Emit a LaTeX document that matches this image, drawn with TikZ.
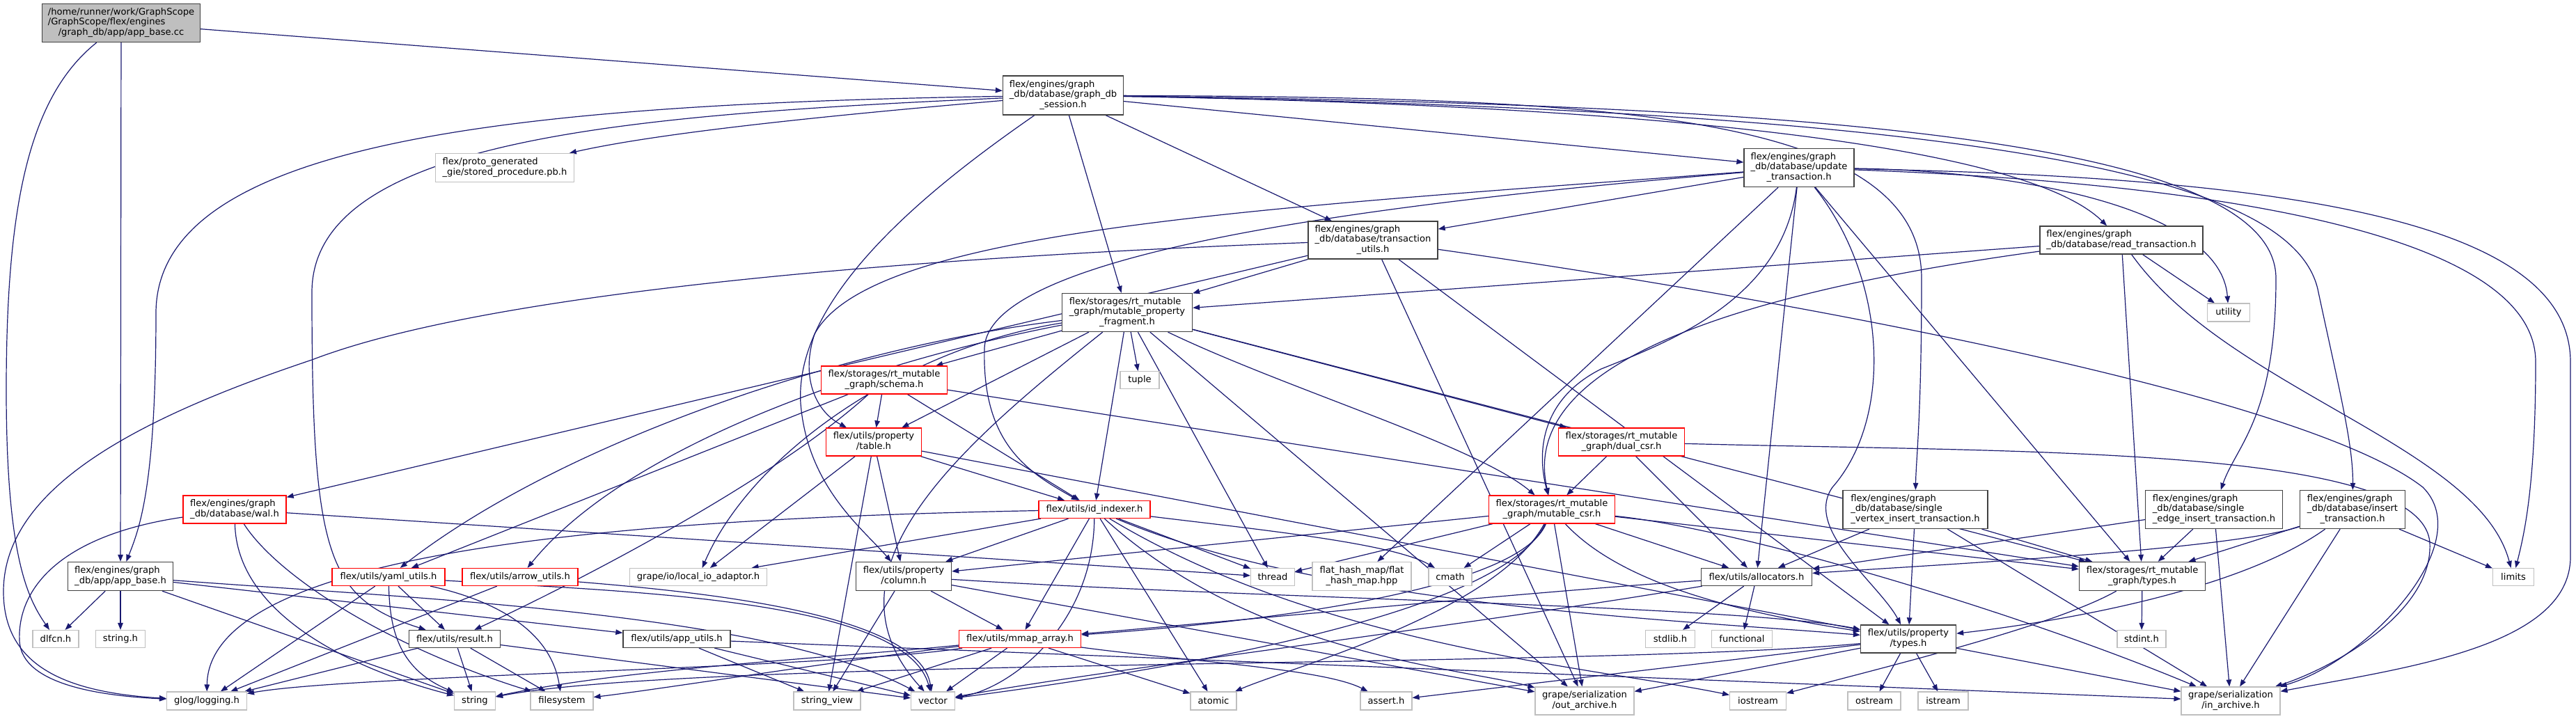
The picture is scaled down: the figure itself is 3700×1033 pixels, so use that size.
\documentclass[tikz,border=0pt]{standalone}
\usepackage{fontspec}
\setmainfont{DejaVu Sans}
\usetikzlibrary{arrows.meta}
\definecolor{dgEdge}{HTML}{191970}
\definecolor{dgGray}{HTML}{BFBFBF}
\definecolor{dgDark}{HTML}{404040}
\definecolor{dgRed}{HTML}{FF0000}
\pgfdeclarelayer{paper}
\pgfdeclarelayer{wires}
\pgfsetlayers{paper,wires,main}
% file label: all lines left, last line centred (as doxygen does)
\newcommand{\fname}[2]{\begin{tabular}{@{}l@{}}#1\\\multicolumn{1}{@{}c@{}}{#2}\end{tabular}}
\tikzset{
  sz/.style 2 args={minimum width=#1,minimum height=#2},
  hdrbox/.style={draw=dgDark,line width=1.3pt,fill=white,inner sep=0pt},
  sysbox/.style={hdrbox,draw=dgGray,line width=1.1pt},
  cutbox/.style={hdrbox,draw=dgRed},
  topbox/.style={hdrbox,fill=dgGray},
  incl/.style={draw=dgEdge,line width=1.2pt,->}
}
\begin{document}
\begin{tikzpicture}[x=1pt,y=-1pt,>={Triangle[length=10pt,width=7.5pt]},font=\fontsize{13.1}{14.7}\selectfont]
\useasboundingbox (0,0) rectangle (3700,1033);
\begin{pgfonlayer}{paper}
\fill[white] (0,0) rectangle (3700,1033);
\end{pgfonlayer}
% row 0-2
\node[topbox,sz={227}{55}] (cc) at (174,33) {\fname{/home/runner/work/GraphScope\\/GraphScope/flex/engines}{/graph\_db/app/app\_base.cc}};
\node[hdrbox,sz={173}{56}] (session) at (1527,137) {\fname{flex/engines/graph\\\_db/database/graph\_db}{\_session.h}};
\node[sysbox,sz={199}{41}] (proto) at (725,241) {\fname{flex/proto\_generated}{\_gie/stored\_procedure.pb.h}};
\node[hdrbox,sz={158}{55}] (update) at (2584,241) {\fname{flex/engines/graph\\\_db/database/update}{\_transaction.h}};
\node[hdrbox,sz={186}{54}] (tutils) at (1972,345) {\fname{flex/engines/graph\\\_db/database/transaction}{\_utils.h}};
\node[hdrbox,sz={234}{40}] (read) at (3047,345) {\fname{flex/engines/graph}{\_db/database/read\_transaction.h}};
\node[hdrbox,sz={187}{55}] (mpf) at (1619,449) {\fname{flex/storages/rt\_mutable\\\_graph/mutable\_property}{\_fragment.h}};
\node[sysbox,sz={61}{26}] (utility) at (3201,449) {utility};
% row 3-4
\node[cutbox,sz={181}{40}] (schema) at (1270,546) {\fname{flex/storages/rt\_mutable}{\_graph/schema.h}};
\node[sysbox,sz={56}{25}] (tuple) at (1637,546) {tuple};
\node[cutbox,sz={137}{40}] (table) at (1255,635) {\fname{flex/utils/property}{/table.h}};
\node[cutbox,sz={181}{40}] (dualcsr) at (2329,635) {\fname{flex/storages/rt\_mutable}{\_graph/dual\_csr.h}};
% row 5
\node[cutbox,sz={148}{40}] (wal) at (337,732) {\fname{flex/engines/graph}{\_db/database/wal.h}};
\node[cutbox,sz={160}{25}] (idindexer) at (1572,732) {flex/utils/id\_indexer.h};
\node[cutbox,sz={181}{40}] (mcsr) at (2229,732) {\fname{flex/storages/rt\_mutable}{\_graph/mutable\_csr.h}};
\node[hdrbox,sz={208}{55}] (svi) at (2751,732) {\fname{flex/engines/graph\\\_db/database/single}{\_vertex\_insert\_transaction.h}};
\node[hdrbox,sz={197}{55}] (sei) at (3180,732) {\fname{flex/engines/graph\\\_db/database/single}{\_edge\_insert\_transaction.h}};
\node[hdrbox,sz={151}{55}] (ins) at (3379,732) {\fname{flex/engines/graph\\\_db/database/insert}{\_transaction.h}};
% row 6
\node[hdrbox,sz={151}{41}] (appbaseh) at (173,828) {\fname{flex/engines/graph}{\_db/app/app\_base.h}};
\node[cutbox,sz={162}{25}] (yaml) at (558,829) {flex/utils/yaml\_utils.h};
\node[cutbox,sz={166}{25}] (arrow) at (747,829) {flex/utils/arrow\_utils.h};
\node[sysbox,sz={197}{25}] (localio) at (1003,829) {grape/io/local\_io\_adaptor.h};
\node[hdrbox,sz={137}{41}] (column) at (1298,828) {\fname{flex/utils/property}{/column.h}};
\node[sysbox,sz={63}{25}] (thread) at (1828,829) {thread};
\node[sysbox,sz={142}{41}] (flathash) at (1956,828) {\fname{flat\_hash\_map/flat}{\_hash\_map.hpp}};
\node[sysbox,sz={62}{25}] (cmath) at (2083,829) {cmath};
\node[hdrbox,sz={159}{25}] (alloc) at (2523,829) {flex/utils/allocators.h};
\node[hdrbox,sz={181}{41}] (rttypes) at (3077,828) {\fname{flex/storages/rt\_mutable}{\_graph/types.h}};
\node[sysbox,sz={59}{25}] (limits) at (3610,829) {limits};
% row 7
\node[sysbox,sz={66}{25}] (dlfcn) at (80,918) {dlfcn.h};
\node[sysbox,sz={71}{25}] (stringh) at (173,918) {string.h};
\node[hdrbox,sz={131}{25}] (result) at (653,918) {flex/utils/result.h};
\node[hdrbox,sz={154}{25}] (appuils) at (972,918) {flex/utils/app\_utils.h};
\node[cutbox,sz={175}{25}] (mmap) at (1465,918) {flex/utils/mmap\_array.h};
\node[sysbox,sz={71}{25}] (stdlib) at (2399,918) {stdlib.h};
\node[sysbox,sz={87}{25}] (functional) at (2502,918) {functional};
\node[hdrbox,sz={137}{40}] (ptypes) at (2741,918) {\fname{flex/utils/property}{/types.h}};
\node[sysbox,sz={70}{25}] (stdint) at (3076,918) {stdint.h};
% row 8
\node[sysbox,sz={115}{26}] (glog) at (297,1007) {glog/logging.h};
\node[sysbox,sz={59}{26}] (string) at (682,1007) {string};
\node[sysbox,sz={90}{26}] (filesystem) at (807,1007) {filesystem};
\node[sysbox,sz={96}{26}] (stringview) at (1188,1007) {string\_view};
\node[sysbox,sz={63}{26}] (vector) at (1340,1007) {vector};
\node[sysbox,sz={66}{26}] (atomic) at (1743,1007) {atomic};
\node[sysbox,sz={74}{26}] (assert) at (1991,1007) {assert.h};
\node[sysbox,sz={142}{40}] (outarch) at (2276,1007) {\fname{grape/serialization}{/out\_archive.h}};
\node[sysbox,sz={81}{26}] (iostream) at (2525,1007) {iostream};
\node[sysbox,sz={76}{26}] (ostream) at (2692,1007) {ostream};
\node[sysbox,sz={72}{26}] (istream) at (2791,1007) {istream};
\node[sysbox,sz={142}{40}] (inarch) at (3204,1007) {\fname{grape/serialization}{/in\_archive.h}};

\begin{pgfonlayer}{wires}
% app_base.cc
\draw[incl] (cc) -- (session);
\draw[incl] (cc) -- (appbaseh);
\draw[incl] (cc) .. controls (40,140) and (9,300) .. (9,560) .. controls (9,800) and (40,860) .. (dlfcn);
% graph_db_session.h
\draw[incl] (session) .. controls (1200,165) and (950,190) .. (proto);
\draw[incl] (session) .. controls (700,150) and (224,210) .. (224,450) .. controls (224,700) and (200,760) .. (appbaseh);
\draw[incl] (session) .. controls (900,165) and (448,200) .. (448,420) .. controls (448,800) and (470,860) .. (result);
\draw[incl] (session) -- (update);
\draw[incl] (session) -- (tutils);
\draw[incl] (session) -- (mpf);
\draw[incl] (session) .. controls (2300,150) and (2900,200) .. (read);
\draw[incl] (session) .. controls (2300,140) and (2760,160) .. (2760,400) .. controls (2760,600) and (2752,660) .. (svi);
\draw[incl] (session) .. controls (2600,150) and (3269,200) .. (3269,400) .. controls (3269,600) and (3212,640) .. (sei);
\draw[incl] (session) .. controls (2900,160) and (3300,260) .. (3330,420) .. controls (3360,560) and (3380,640) .. (ins);
\draw[incl] (session) .. controls (1350,260) and (1140,420) .. (1150,580) .. controls (1160,700) and (1240,760) .. (column);
% update_transaction.h
\draw[incl] (update) -- (tutils);
\draw[incl] (update) .. controls (1800,300) and (1250,330) .. (1170,480) .. controls (1150,540) and (1170,590) .. (table);
\draw[incl] (update) .. controls (2000,290) and (1420,360) .. (1414,500) .. controls (1410,640) and (1480,680) .. (idindexer);
\draw[incl] (update) .. controls (2560,430) and (2400,490) .. (2300,530) .. controls (2220,570) and (2205,640) .. (mcsr);
\draw[incl] (update) -- (flathash);
\draw[incl] (update) -- (alloc);
\draw[incl] (update) .. controls (2710,400) and (2720,600) .. (2632,700) .. controls (2590,760) and (2700,840) .. (ptypes);
\draw[incl] (update) -- (rttypes);
\draw[incl] (update) .. controls (2900,245) and (3190,300) .. (utility);
\draw[incl] (update) .. controls (3100,260) and (3642,320) .. (3642,520) .. controls (3642,700) and (3625,770) .. (limits);
\draw[incl] (update) .. controls (3300,255) and (3692,320) .. (3692,520) -- (3692,800) .. controls (3692,930) and (3450,960) .. (inarch);
% read_transaction.h
\draw[incl] (read) -- (mpf);
\draw[incl] (read) .. controls (2500,420) and (2180,520) .. (mcsr);
\draw[incl] (read) -- (rttypes);
\draw[incl] (read) -- (utility);
\draw[incl] (read) .. controls (3200,560) and (3560,640) .. (limits);
% transaction_utils.h
\draw[incl] (tutils) -- (wal);
\draw[incl] (tutils) .. controls (1300,370) and (700,420) .. (448,517) .. controls (200,600) and (5,700) .. (5,850) .. controls (5,960) and (100,995) .. (glog);
\draw[incl] (tutils) -- (mpf);
\draw[incl] (tutils) -- (ptypes);
\draw[incl] (tutils) -- (outarch);
\draw[incl] (tutils) .. controls (2500,420) and (3300,560) .. (3480,700) .. controls (3560,780) and (3400,950) .. (inarch);
% mutable_property_fragment.h
\draw[incl] (mpf) -- (schema);
\draw[incl] (mpf) -- (table);
\draw[incl] (mpf) -- (tuple);
\draw[incl] (mpf) -- (dualcsr);
\draw[incl] (mpf) -- (idindexer);
\draw[incl] (mpf) .. controls (1850,560) and (2120,640) .. (mcsr);
\draw[incl] (mpf) -- (rttypes);
\draw[incl] (mpf) .. controls (1200,500) and (800,640) .. (yaml);
\draw[incl] (mpf) .. controls (1250,520) and (900,640) .. (arrow);
\draw[incl] (mpf) .. controls (1300,500) and (1080,650) .. (localio);
\draw[incl] (mpf) -- (thread);
\draw[incl] (mpf) .. controls (1380,640) and (1170,820) .. (vector);
\draw[incl] (mpf) -- (outarch);
% schema.h, table.h, dual_csr.h
\draw[incl] (schema) -- (table);
\draw[incl] (schema) -- (idindexer);
\draw[incl] (schema) -- (rttypes);
\draw[incl] (schema) -- (yaml);
\draw[incl] (schema) .. controls (1100,700) and (800,850) .. (result);
\draw[incl] (table) -- (column);
\draw[incl] (table) -- (idindexer);
\draw[incl] (table) -- (localio);
\draw[incl] (table) -- (stringview);
\draw[incl] (table) -- (ptypes);
\draw[incl] (dualcsr) -- (mcsr);
\draw[incl] (dualcsr) -- (alloc);
\draw[incl] (dualcsr) .. controls (2900,650) and (3480,640) .. (3490,780) .. controls (3495,880) and (3350,960) .. (inarch);
% mutable_csr.h
\draw[incl] (mcsr) -- (thread);
\draw[incl] (mcsr) -- (column);
\draw[incl] (mcsr) -- (cmath);
\draw[incl] (mcsr) -- (alloc);
\draw[incl] (mcsr) .. controls (2330,840) and (2500,880) .. (ptypes);
\draw[incl] (mcsr) -- (rttypes);
\draw[incl] (mcsr) .. controls (2500,760) and (2900,880) .. (inarch);
\draw[incl] (mcsr) -- (outarch);
\draw[incl] (mcsr) .. controls (2180,850) and (1800,895) .. (mmap);
\draw[incl] (mcsr) .. controls (2150,880) and (1850,960) .. (atomic);
\draw[incl] (mcsr) .. controls (2160,880) and (1700,960) .. (vector);
% id_indexer.h
\draw[incl] (idindexer) .. controls (900,745) and (300,790) .. (glog);
\draw[incl] (idindexer) -- (localio);
\draw[incl] (idindexer) -- (column);
\draw[incl] (idindexer) -- (mmap);
\draw[incl] (idindexer) .. controls (1570,900) and (1450,990) .. (vector);
\draw[incl] (idindexer) -- (atomic);
\draw[incl] (idindexer) -- (thread);
\draw[incl] (idindexer) .. controls (1800,760) and (2000,780) .. (cmath);
\draw[incl] (idindexer) .. controls (1900,870) and (2400,890) .. (ptypes);
\draw[incl] (idindexer) .. controls (1800,940) and (2100,960) .. (outarch);
\draw[incl] (idindexer) .. controls (1900,930) and (2300,960) .. (iostream);
% column.h, mmap_array.h
\draw[incl] (column) -- (mmap);
\draw[incl] (column) -- (stringview);
\draw[incl] (column) .. controls (1800,860) and (2500,870) .. (ptypes);
\draw[incl] (column) -- (outarch);
\draw[incl] (mmap) .. controls (1200,960) and (500,970) .. (glog);
\draw[incl] (mmap) .. controls (1200,945) and (900,960) .. (string);
\draw[incl] (mmap) .. controls (1200,950) and (950,990) .. (filesystem);
\draw[incl] (mmap) -- (stringview);
\draw[incl] (mmap) -- (vector);
\draw[incl] (mmap) -- (atomic);
\draw[incl] (mmap) .. controls (1700,950) and (1900,960) .. (assert);
% small utils
\draw[incl] (yaml) -- (glog);
\draw[incl] (yaml) .. controls (560,900) and (570,960) .. (string);
\draw[incl] (yaml) -- (result);
\draw[incl] (yaml) .. controls (700,860) and (790,900) .. (filesystem);
\draw[incl] (yaml) .. controls (900,850) and (1300,860) .. (vector);
\draw[incl] (arrow) -- (glog);
\draw[incl] (arrow) .. controls (1000,850) and (1320,880) .. (vector);
\draw[incl] (result) -- (glog);
\draw[incl] (result) -- (string);
\draw[incl] (result) -- (filesystem);
\draw[incl] (result) -- (vector);
\draw[incl] (wal) .. controls (80,770) and (25,850) .. (28,920) .. controls (30,985) and (150,1000) .. (glog);
\draw[incl] (wal) -- (thread);
\draw[incl] (wal) .. controls (340,880) and (500,960) .. (string);
\draw[incl] (wal) .. controls (400,830) and (560,930) .. (filesystem);
\draw[incl] (appbaseh) -- (dlfcn);
\draw[incl] (appbaseh) -- (stringh);
\draw[incl] (appbaseh) -- (string);
\draw[incl] (appbaseh) -- (appuils);
\draw[incl] (appbaseh) .. controls (600,860) and (1100,880) .. (vector);
\draw[incl] (appuils) -- (stringview);
\draw[incl] (appuils) -- (vector);
\draw[incl] (appuils) -- (inarch);
% allocators.h, types
\draw[incl] (alloc) -- (stdlib);
\draw[incl] (alloc) -- (functional);
\draw[incl] (alloc) .. controls (2200,850) and (1800,890) .. (mmap);
\draw[incl] (alloc) .. controls (2100,900) and (1600,960) .. (vector);
\draw[incl] (ptypes) .. controls (2300,960) and (1000,945) .. (string);
\draw[incl] (ptypes) -- (assert);
\draw[incl] (ptypes) -- (outarch);
\draw[incl] (ptypes) -- (ostream);
\draw[incl] (ptypes) -- (istream);
\draw[incl] (ptypes) -- (inarch);
\draw[incl] (rttypes) -- (stdint);
\draw[incl] (rttypes) .. controls (2950,900) and (2700,960) .. (iostream);
% insert transactions
\draw[incl] (svi) -- (alloc);
\draw[incl] (svi) -- (rttypes);
\draw[incl] (svi) -- (ptypes);
\draw[incl] (svi) -- (inarch);
\draw[incl] (sei) -- (alloc);
\draw[incl] (sei) -- (rttypes);
\draw[incl] (sei) -- (inarch);
\draw[incl] (ins) .. controls (3200,790) and (2800,810) .. (alloc);
\draw[incl] (ins) -- (rttypes);
\draw[incl] (ins) .. controls (3200,860) and (2900,900) .. (ptypes);
\draw[incl] (ins) -- (inarch);
\draw[incl] (ins) -- (limits);
\end{pgfonlayer}
\end{tikzpicture}
\end{document}
